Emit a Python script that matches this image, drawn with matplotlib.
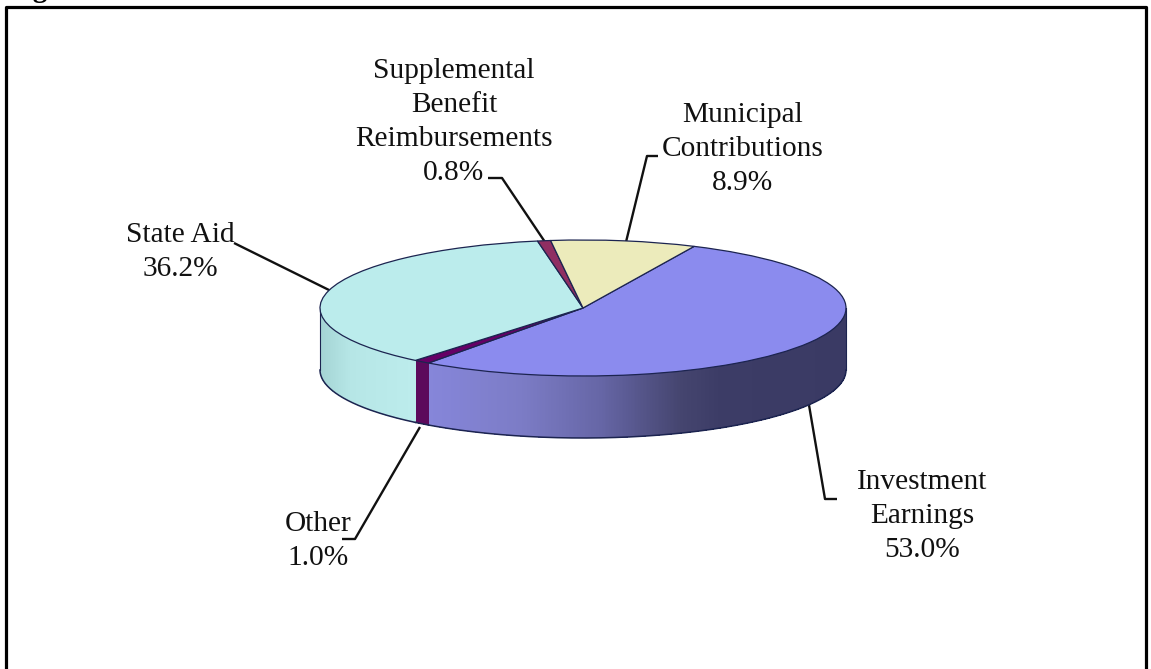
import numpy as np
import matplotlib
matplotlib.use('Agg')
import matplotlib.pyplot as plt

plt.rcParams['font.family'] = ['Liberation Serif', 'DejaVu Serif']

W, H = 1151, 669

# Data
categories = ['Investment\nEarnings', 'Other', 'State Aid', 'Supplemental\nBenefit\nReimbursements', 'Municipal\nContributions']
shares = [53.0, 1.0, 36.2, 0.8, 8.9]
top_colors = ['#8b8bee', '#660066', '#bbecec', '#8f2e62', '#ecebbb']

# label positions and leader lines, in image pixels
label_xy = [(922, 516), (318, 541), (180, 252), (454, 122), (743, 149)]
leaders = [
    [(809, 405), (825, 499), (837, 499)],
    [(420, 427), (355, 539), (342, 539)],
    [(234, 243), (331, 291)],
    [(488, 178), (502, 178), (545, 242)],
    [(658, 156), (647, 156), (626, 242)],
]

# pie geometry in image pixels
cx, cy = 583, 308
rx, ry = 263, 68
depth = 62
start = 65.0


def side_color(x, stops):
    xs = [s[0] for s in stops]
    rgb = np.array([matplotlib.colors.to_rgb(s[1]) for s in stops])
    return [np.interp(x, xs, rgb[:, i]) for i in range(3)]


fig = plt.figure(figsize=(W / 100, H / 100), dpi=100)

# overlay in pixel coordinates for frame, labels and leaders
bg = fig.add_axes([0, 0, 1, 1])
bg.set_xlim(0, W)
bg.set_ylim(H, 0)
bg.axis('off')
bg.plot([6.5, 6.5, 1146.5, 1146.5], [H + 5, 6.5, 6.5, H + 5], color='black', lw=2.3)
for line in leaders:
    bg.plot([p[0] for p in line], [p[1] for p in line], color='#111111', lw=1.7, solid_capstyle='butt')
for cat, share, (lx, ly) in zip(categories, shares, label_xy):
    bg.text(lx, ly, f'{cat}\n{share:.1f}%', ha='center', va='center', fontsize=21.2,
            linespacing=1.4, color='#111111')

# the pie goes in an axes stretched so the circle turns into the ellipse
ax = fig.add_axes([(cx - 1.25 * rx) / W, 1 - (cy + 1.25 * ry) / H, 2.5 * rx / W, 2.5 * ry / H])
ax.patch.set_alpha(0)
ax.pie(shares, colors=top_colors, startangle=start, counterclock=False, radius=1,
       wedgeprops={'edgecolor': '#1c2450', 'linewidth': 0.9, 'zorder': 5})
ax.set_aspect('auto')
ax.set_xlim(-1.25, 1.25)
ax.set_ylim(-1.25, 1.25)
for child in ax.patches:
    child.set_clip_on(False)

# wedge boundaries going clockwise from the start angle
bounds = start - np.cumsum([0] + shares) * 360 / sum(shares)

# front wall colour stops, by pixel x
wall_stops = {
    0: [(428, '#8686da'), (520, '#7c7cc6'), (600, '#6666a6'), (680, '#45456f'), (720, '#3c3c66'), (846, '#3a3a64')],
    1: [(0, '#5c0a5c'), (W, '#5c0a5c')],
    2: [(320, '#a4d4d4'), (350, '#b6e6e6'), (412, '#bcecec')],
}
dy = depth / ry
for i, stops in wall_stops.items():
    # only the part of each wall in the lower half is visible
    a0_vis = min(bounds[i], 0)
    a1_vis = max(bounds[i + 1], -180)
    n = max(int(abs(a0_vis - a1_vis)), 2)
    ang = np.radians(np.linspace(a0_vis, a1_vis, n * 3 + 1))
    for t0, t1 in zip(ang[:-1], ang[1:]):
        xs = [np.cos(t0), np.cos(t1), np.cos(t1), np.cos(t0)]
        ys = [np.sin(t0), np.sin(t1), np.sin(t1) - dy, np.sin(t0) - dy]
        c = side_color(cx + rx * (xs[0] + xs[1]) / 2, stops)
        # no antialiasing here, otherwise the strips show seams
        ax.fill(xs, ys, color=c, lw=0, antialiased=False, zorder=2, clip_on=False)
    # bottom outline of the wall
    tt = np.radians(np.linspace(a0_vis, a1_vis, 200))
    ax.plot(np.cos(tt), np.sin(tt) - dy, color='#1c2450', lw=1.1, zorder=3, clip_on=False)

# vertical edges at the tips
for a in [0, -180]:
    t = np.radians(a)
    ax.plot([np.cos(t)] * 2, [np.sin(t), np.sin(t) - dy], color='#1c2450', lw=0.8, zorder=3, clip_on=False)

# cut off title above the frame
fig.text(8 / W, 1 + 3 / H, 'Figure', fontsize=21, fontweight='bold', ha='left', va='baseline')

fig.savefig('out.png', dpi=100)
